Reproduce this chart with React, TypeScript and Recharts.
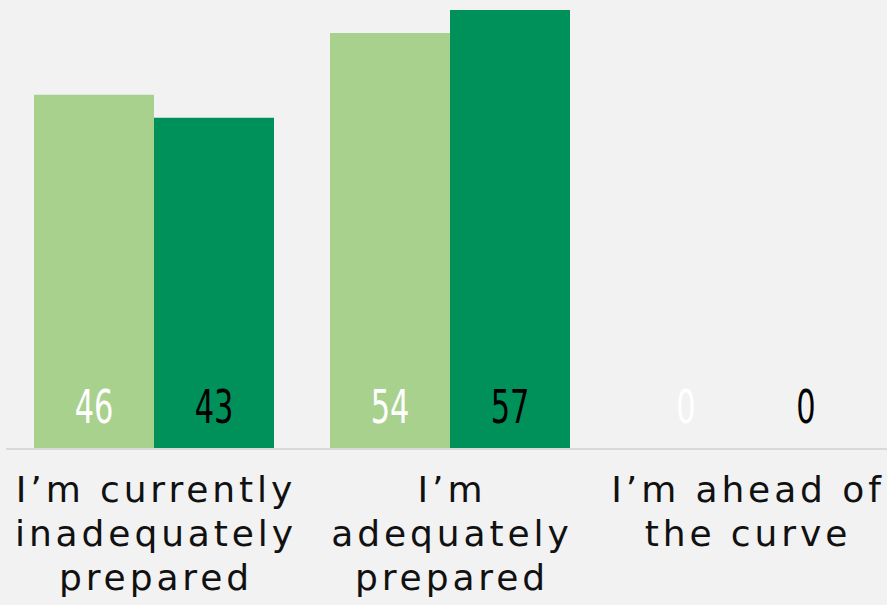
import { Bar, BarChart, LabelList, XAxis, YAxis } from "recharts";

const categories = [
  "I\u2019m currently\ninadequately\nprepared",
  "I\u2019m\nadequately\nprepared",
  "I\u2019m ahead of\nthe curve",
];
const seriesLight = [46, 54, 0];
const seriesDark = [43, 57, 0];

const data = categories.map((name, i) => ({
  name,
  light: seriesLight[i],
  dark: seriesDark[i],
}));

// multi-line category label under the axis
function CategoryTick({ x, y, payload }: any) {
  const lines = String(payload.value).split("\n");
  return (
    <text
      x={x}
      y={y}
      textAnchor="middle"
      fontFamily="'DejaVu Sans', 'Open Sans', sans-serif"
      fontSize={36}
      letterSpacing={3.9}
      fill="#111"
    >
      {lines.map((l, i) => (
        // letterSpacing adds trailing space, nudge back by half of it
        <tspan key={i} x={x + 2} y={y + 45 + i * 44}>
          {l}
        </tspan>
      ))}
    </text>
  );
}

const valueLabel = (color: string) => (props: any) => {
  const { x, y, width, height, value } = props;
  const cx = Number(x) + Number(width) / 2;
  const base = Number(y) + Number(height) - 26;
  return (
    <text
      transform={`translate(${cx},${base}) scale(0.72,1)`}
      textAnchor="middle"
      fontFamily="'Liberation Sans Narrow', 'DejaVu Sans Condensed', sans-serif"
      fontSize={47}
      fill={color}
    >
      {value}
    </text>
  );
};

// zero-value bars still need a rect so their labels get drawn
const minSize = (v: number) => (v === 0 ? 0.01 : 0);

export default function App() {
  return (
    <div
      style={{
        position: "fixed",
        inset: 0,
        background: "#f2f2f2",
        overflow: "hidden",
      }}
    >
      <BarChart
        width={900}
        height={605}
        data={data}
        margin={{ top: 0, right: 6, left: 6, bottom: 0 }}
        barCategoryGap={28}
        barGap={0}
      >
        <XAxis
          dataKey="name"
          height={156}
          tickLine={false}
          axisLine={{ stroke: "#d9d9d9", strokeWidth: 2 }}
          tick={<CategoryTick />}
          interval={0}
        />
        <YAxis hide domain={[0, 58.3]} />
        <Bar dataKey="light" fill="#a9d18e" minPointSize={minSize} isAnimationActive={false}>
          <LabelList dataKey="light" content={valueLabel("#ffffff")} />
        </Bar>
        <Bar dataKey="dark" fill="#00905a" minPointSize={minSize} isAnimationActive={false}>
          <LabelList dataKey="dark" content={valueLabel("#000000")} />
        </Bar>
      </BarChart>
    </div>
  );
}
